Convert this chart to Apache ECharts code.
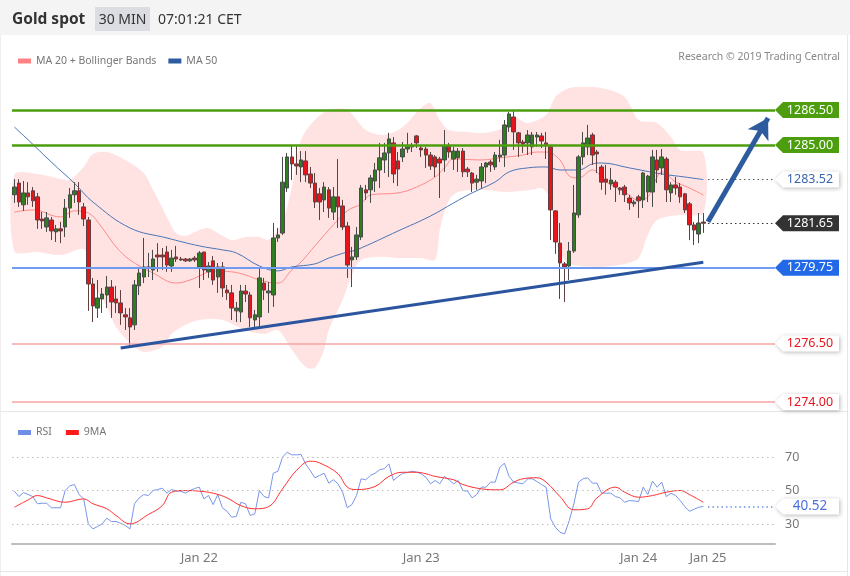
<!DOCTYPE html>
<html><head><meta charset="utf-8">
<script src="https://cdn.jsdelivr.net/npm/echarts/dist/echarts.min.js"></script>
<style>html,body{margin:0;padding:0;background:#fff}#chart{width:850px;height:576px}</style>
</head><body><div id="chart"></div>
<script>
// ---------- DATA ----------
const slotCount = 165; // 150 candles + empty slots on the right
const dateLabels = ['Jan 22', 'Jan 23', 'Jan 24', 'Jan 25'];
const dateLabelSlots = [40, 88, 135, 150];

const opens = [1282.87,1283.37,1282.44,1282.95,1283.04,1282.78,1281.83,1281.49,1281.79,1281.28,
1281.41,1281.49,1282.30,1282.87,1283.04,1282.35,1281.79,1279.05,1278.02,1278.41,
1278.58,1278.92,1278.41,1278.24,1277.73,1277.60,1277.30,1278.97,1279.35,1279.74,
1279.65,1280.29,1280.29,1280.42,1279.82,1280.21,1280.12,1280.12,1280.04,1280.16,
1279.78,1280.42,1279.57,1280.04,1279.35,1279.78,1278.79,1278.67,1277.90,1277.85,
1278.75,1278.58,1277.51,1277.64,1279.09,1278.67,1278.58,1281.02,1281.23,1283.16,
1284.49,1284.19,1284.06,1284.32,1283.76,1283.37,1282.91,1282.65,1283.08,1282.13,
1282.78,1282.39,1281.53,1280.08,1280.21,1281.06,1283.08,1283.08,1283.46,1283.93,
1284.36,1284.66,1285.09,1284.32,1284.49,1284.83,1284.92,1285.39,1284.87,1284.83,
1284.57,1284.49,1284.40,1284.36,1284.96,1284.40,1284.45,1284.74,1283.97,1283.80,
1283.41,1283.46,1284.06,1284.27,1284.06,1284.49,1284.57,1285.77,1286.20,1285.52,
1285.13,1285.09,1284.92,1285.34,1285.39,1285.09,1284.92,1282.18,1280.80,1279.91,
1279.82,1280.46,1282.01,1284.49,1284.92,1285.43,1284.70,1284.06,1283.54,1283.33,
1283.41,1283.16,1283.20,1282.73,1282.48,1282.78,1282.65,1282.99,1282.99,1284.36,
1284.02,1284.40,1282.95,1283.29,1283.20,1282.91,1282.48,1281.58,1281.19,1281.70];

const closes = [1283.20,1282.56,1282.95,1282.78,1282.61,1281.79,1281.75,1281.88,1281.32,1281.41,
1281.32,1282.30,1282.87,1283.04,1282.56,1281.83,1279.05,1278.11,1278.45,1278.62,
1278.92,1278.28,1278.24,1277.81,1277.64,1277.21,1279.01,1279.52,1279.78,1279.78,
1280.12,1280.21,1280.21,1279.86,1280.16,1280.12,1280.08,1280.04,1280.12,1280.08,
1280.38,1279.65,1279.82,1279.22,1279.78,1278.88,1278.67,1278.02,1278.02,1278.75,
1278.62,1277.60,1277.73,1279.31,1278.79,1278.75,1281.02,1281.15,1283.41,1284.49,
1284.19,1284.10,1284.36,1283.72,1283.37,1282.56,1282.56,1283.20,1282.30,1282.78,
1282.35,1281.49,1279.86,1280.21,1281.15,1283.16,1282.95,1283.59,1283.93,1284.45,
1284.66,1285.26,1283.76,1283.97,1284.83,1284.92,1284.96,1285.09,1284.79,1284.57,
1284.10,1284.06,1284.23,1284.96,1284.70,1284.74,1284.74,1283.85,1283.85,1283.37,
1283.54,1284.06,1284.23,1284.15,1284.57,1284.57,1285.86,1286.33,1285.56,1285.09,
1285.04,1285.43,1285.43,1285.43,1285.17,1285.00,1282.22,1280.85,1279.95,1279.78,
1280.46,1282.09,1284.49,1285.09,1285.30,1284.57,1284.62,1283.41,1283.41,1283.50,
1283.20,1283.08,1282.87,1282.52,1282.56,1282.61,1283.80,1283.67,1284.49,1283.93,
1284.49,1283.08,1283.29,1283.16,1282.78,1282.22,1281.58,1281.36,1281.66,1281.65];

const lows = [1282.52,1282.35,1282.18,1282.44,1282.35,1281.41,1281.41,1281.28,1280.93,1280.85,
1280.80,1281.06,1281.88,1282.52,1282.01,1281.53,1277.90,1277.42,1277.60,1277.81,
1278.02,1277.60,1277.81,1277.30,1277.08,1276.40,1277.08,1278.58,1279.09,1279.35,
1279.22,1279.57,1279.65,1279.57,1279.57,1279.99,1280.04,1279.99,1279.99,1279.99,
1278.88,1279.22,1279.31,1279.01,1278.67,1278.49,1278.37,1277.51,1277.42,1277.42,
1278.28,1277.21,1277.17,1277.21,1278.37,1277.81,1278.07,1280.85,1281.15,1282.99,
1283.50,1283.72,1283.41,1283.41,1283.16,1282.30,1281.79,1282.13,1281.88,1281.79,
1281.45,1281.36,1279.31,1278.92,1280.08,1280.93,1282.65,1282.52,1282.99,1283.16,
1283.80,1283.63,1283.37,1283.24,1284.27,1284.66,1284.70,1284.87,1284.49,1284.02,
1283.93,1283.63,1282.73,1283.85,1284.45,1283.93,1283.85,1283.63,1283.63,1282.99,
1283.08,1283.16,1283.37,1283.85,1283.93,1284.27,1284.06,1285.56,1284.79,1284.49,
1284.66,1284.57,1284.57,1284.92,1284.87,1284.40,1280.93,1280.34,1278.41,1278.28,
1279.22,1280.38,1281.88,1284.15,1284.57,1284.15,1283.80,1283.08,1282.87,1283.08,
1282.56,1282.87,1282.56,1282.22,1282.35,1281.88,1282.30,1282.56,1282.35,1283.37,
1283.72,1282.56,1282.56,1282.87,1282.52,1282.09,1280.93,1280.72,1280.80,1281.24];

const highs = [1283.54,1283.54,1283.46,1283.41,1283.20,1282.95,1282.13,1282.13,1281.92,1281.58,
1281.71,1282.69,1283.16,1283.41,1283.41,1282.52,1281.92,1279.31,1279.22,1278.88,
1279.39,1279.22,1278.97,1278.79,1278.02,1278.02,1279.22,1279.78,1281.02,1280.38,
1280.51,1280.80,1280.59,1280.68,1280.51,1280.68,1280.21,1280.16,1280.16,1280.25,
1280.46,1280.42,1279.99,1280.25,1279.95,1279.99,1279.01,1279.01,1278.28,1279.01,
1279.01,1278.71,1277.94,1279.74,1279.31,1279.13,1281.66,1281.45,1284.49,1284.66,
1285.00,1285.00,1284.74,1284.74,1284.06,1283.80,1283.16,1283.41,1283.20,1283.20,
1284.40,1282.65,1281.71,1280.64,1281.49,1283.29,1283.29,1283.72,1284.23,1285.09,
1285.09,1285.52,1285.34,1284.70,1285.13,1285.52,1285.09,1285.43,1285.00,1284.92,
1284.70,1284.57,1284.49,1285.64,1285.09,1284.92,1284.87,1284.87,1284.06,1283.85,
1283.72,1284.23,1284.27,1284.36,1284.70,1285.22,1286.07,1286.41,1286.50,1285.56,
1285.22,1285.64,1285.56,1285.56,1285.52,1285.56,1285.00,1282.22,1281.66,1279.99,
1280.85,1283.29,1284.57,1285.56,1285.86,1285.52,1284.79,1284.15,1284.15,1284.02,
1283.50,1283.20,1283.29,1282.87,1282.65,1282.87,1283.85,1283.72,1284.79,1284.79,
1284.83,1284.49,1283.41,1283.63,1283.37,1282.95,1282.56,1281.71,1282.09,1282.09];

// MA 20 (at these candle slots)
const ma20Slots = [0,4,10,13,16,19,22,25,30,35,38,40,43,47,50,53,57,60,62,65,68,72,75,77,83,87,91,93,95,101,105,110,113,115,118,120,122,125,128,132,135,137,139,140,143,146,149];
const ma20Vals = [1282.13,1282.22,1281.92,1282.18,1282.09,1281.45,1280.64,1280.08,1279.52,1279.09,1279.22,1279.39,1279.61,1279.57,1279.44,1279.22,1279.09,1279.65,1279.99,1280.68,1281.36,1282.18,1282.48,1282.86,1282.95,1283.20,1283.63,1284.02,1284.40,1284.36,1284.45,1284.57,1284.70,1284.70,1284.36,1283.67,1283.59,1283.93,1283.42,1282.99,1282.65,1282.78,1283.63,1283.85,1283.42,1283.16,1282.86];

// Bollinger upper / lower
const upperSlots = [0,5,10,12,15,17,20,24,28,30,33,35,37,40,42,44,47,50,53,55,58,60,62,65,68,72,76,80,84,88,90,92,94,98,102,106,108,111,115,117,120,123,127,132,135,139,142,144,149];
const upperVals = [1283.72,1283.76,1283.54,1283.50,1284.06,1284.62,1284.70,1284.36,1283.80,1283.08,1281.92,1281.23,1281.11,1281.36,1281.45,1281.23,1280.93,1281.06,1281.06,1280.93,1281.71,1283.20,1285.22,1286.07,1286.50,1286.50,1285.64,1285.43,1285.77,1286.59,1286.80,1286.07,1285.64,1285.56,1285.52,1285.77,1286.20,1285.94,1286.29,1287.06,1287.44,1287.48,1287.44,1287.06,1286.07,1285.94,1285.34,1284.79,1284.66];
const lowerSlots = [0,5,10,15,16,17,20,22,25,28,32,34,37,40,45,50,54,57,60,63,65,67,68,71,73,75,79,83,88,91,92,94,96,101,106,112,114,116,117,119,121,126,132,135,137,139,144,149];
const lowerVals = [1280.46,1280.42,1280.29,1280.55,1279.86,1279.09,1278.07,1277.21,1276.53,1276.14,1276.36,1276.91,1277.30,1277.51,1277.51,1277.08,1276.91,1277.08,1276.23,1275.50,1275.46,1276.23,1277.08,1278.37,1279.44,1280.08,1280.21,1280.16,1280.16,1280.08,1281.36,1282.65,1282.99,1283.08,1282.99,1283.08,1283.16,1282.65,1280.93,1280.08,1279.86,1279.78,1279.91,1280.16,1281.15,1281.79,1282.01,1282.09];

// MA 50
const ma50Slots = [0,3,8,13,17,25,33,40,45,48,53,57,60,65,68,72,74,83,90,95,99,104,107,111,115,118,122,125,127,133,140,145,149];
const ma50Vals = [1285.77,1285.22,1284.27,1283.36,1282.56,1281.45,1281.02,1280.68,1280.51,1280.38,1279.82,1279.61,1279.78,1279.91,1280.16,1280.42,1280.51,1281.32,1281.96,1282.52,1282.95,1283.42,1283.85,1284.02,1284.06,1283.93,1283.93,1284.19,1284.23,1284.02,1283.76,1283.63,1283.52];

// Levels
const resistanceLevels = [1286.50, 1285.00];
const pivotLevel = 1279.75;
const supportLevels = [1276.50, 1274.00];
const ma50Last = 1283.52;
const lastPrice = 1281.65;
const trendSlots = [23, 149];
const trendVals = [1276.31, 1279.98];
const arrowSlots = [150, 163];
const arrowVals = [1281.71, 1286.16];

// RSI
const rsiVals = [49.6,46.4,48.8,47.6,46.4,42.1,42.4,42.4,39.7,39.7,
39.7,50.0,52.8,53.6,47.6,45.0,30.1,27.1,28.5,30.1,
33.5,31.5,31.5,30.5,29.1,27.1,42.1,45.6,47.6,47.0,
50.0,50.6,51.4,48.4,50.6,49.7,49.6,48.4,50.0,51.2,
52.0,45.0,47.0,41.6,47.6,39.7,37.6,34.1,34.5,43.0,
42.1,35.1,36.1,50.0,46.4,45.6,60.3,61.5,69.9,72.9,
71.3,71.3,71.5,65.9,61.9,57.6,59.0,60.3,54.4,56.4,
54.0,49.0,39.7,41.6,47.0,57.0,56.4,59.0,60.3,62.4,
63.0,65.9,56.0,58.4,60.3,60.7,61.5,61.0,60.0,57.9,
54.0,56.0,54.0,58.4,56.4,54.0,56.0,50.0,49.6,45.6,
47.6,52.0,52.0,55.0,55.0,63.9,66.3,58.4,55.0,54.5,
54.0,57.0,57.0,55.4,53.6,52.0,33.1,28.1,25.1,24.1,
32.0,42.0,55.0,57.0,57.6,54.4,54.4,48.4,48.4,48.4,
46.4,45.6,43.0,44.0,43.8,43.4,52.0,47.6,55.6,52.0,
55.0,46.4,48.4,47.0,44.0,40.4,37.6,38.8,40.0,40.52];
const rsiMaSlots = [0,3,5,7,11,15,17,20,22,25,29,32,34,37,40,43,46,49,52,55,58,61,64,66,70,72,74,78,81,84,87,89,91,95,97,101,105,108,110,113,115,118,121,124,126,130,132,135,138,141,144,146,149];
const rsiMaVals = [40.0,44.4,47.0,45.6,43.0,45.0,42.1,39.1,35.1,30.1,35.7,41.0,49.0,50.0,49.6,48.4,45.6,41.0,39.1,40.4,51.0,61.9,67.5,66.5,60.0,52.0,50.6,52.4,58.4,60.9,60.9,60.0,58.4,56.4,53.6,51.0,50.4,55.0,57.0,57.6,55.0,46.4,38.5,39.1,45.6,52.0,49.0,46.0,47.0,49.0,50.0,47.6,43.0];
const rsiGridLevels = [70, 50, 30];
const rsiLast = 40.52;

// ---------- CHART ----------
const FONT = '"Noto Sans", "Open Sans", sans-serif';
const cats = Array.from({length: slotCount}, (_, i) => 's' + i);
const pairs = (s, v) => s.map((x, k) => [x, v[k]]);
const candles = opens.map((o, i) => [o, closes[i], lows[i], highs[i]]);
const lastSlot = slotCount - 1;
const tagPath = 'path://M0,8L8,0L64,0L64,16L8,16Z';
const shadow = {shadowBlur: 4, shadowColor: 'rgba(0,0,0,0.28)', shadowOffsetX: 1, shadowOffsetY: 1};

function tag(v, fill, text, withShadow, size) {
  return {
    coord: [lastSlot, v], value: v.toFixed(2),
    symbol: tagPath, symbolSize: [64, 16], symbolOffset: [34.3, 0], symbolKeepAspect: false,
    itemStyle: Object.assign({color: fill}, withShadow ? shadow : {}),
    label: {show: true, position: 'inside', offset: [3, 0], color: text, fontSize: size || 12.5, fontFamily: FONT, formatter: (p) => p.value}
  };
}

const chart = echarts.init(document.getElementById('chart'), null, {renderer: 'canvas'});
const option = {
  animation: false,
  backgroundColor: '#fff',
  textStyle: {fontFamily: FONT},
  grid: [
    {left: 12, width: 763, top: 79.6, height: 331.7},
    {left: 12, width: 763, top: 440.25, height: 103.05}
  ],
  xAxis: [
    {type: 'category', gridIndex: 0, data: cats, boundaryGap: true, show: false},
    {type: 'category', gridIndex: 1, data: cats, boundaryGap: true,
     axisLine: {show: true, lineStyle: {color: '#bdbdbd', width: 2}},
     axisTick: {show: false}, splitLine: {show: false},
     axisLabel: {
       interval: (i) => dateLabelSlots.indexOf(i) >= 0,
       formatter: (v, i) => { const k = dateLabelSlots.indexOf(i); return k >= 0 ? dateLabels[k] : ''; },
       color: '#777', fontSize: 13, margin: 8, fontFamily: FONT
     }}
  ],
  yAxis: [
    {type: 'value', gridIndex: 0, min: 1273.6, max: 1287.8, show: false},
    {type: 'value', gridIndex: 1, min: 18.5, max: 80, show: false}
  ],
  legend: [
    {data: ['MA 20 + Bollinger Bands', 'MA 50'], left: 13, top: 50.5, icon: 'rect', itemWidth: 13, itemHeight: 5, itemGap: 12,
     selectedMode: false, textStyle: {color: '#777', fontSize: 10.5, fontFamily: FONT}},
    {data: ['RSI', '9MA'], left: 13, top: 422, icon: 'rect', itemWidth: 13, itemHeight: 5, itemGap: 14,
     selectedMode: false, textStyle: {color: '#777', fontSize: 10.5, fontFamily: FONT}}
  ],
  graphic: [
    {type: 'rect', shape: {x: 0, y: 0, width: 850, height: 35}, style: {fill: '#f4f4f4'}, z: -10},
    {type: 'rect', shape: {x: 95, y: 7, width: 55, height: 24}, style: {fill: '#dcdde2'}, z: -9},
    {type: 'text', x: 12, y: 20, style: {text: 'Gold spot', fill: '#333', font: 'bold 15.5px ' + FONT, textVerticalAlign: 'middle'}},
    {type: 'text', x: 122.5, y: 20, style: {text: '30 MIN', fill: '#333', font: '14px ' + FONT, textAlign: 'center', textVerticalAlign: 'middle'}},
    {type: 'text', x: 158, y: 20, style: {text: '07:01:21 CET', fill: '#333', font: '14px ' + FONT, textVerticalAlign: 'middle'}},
    {type: 'text', x: 840, y: 57.5, style: {text: 'Research \u00a9 2019 Trading Central', fill: '#888', font: '10.5px ' + FONT, textAlign: 'right', textVerticalAlign: 'middle'}},
    {type: 'line', shape: {x1: 0, y1: 411.5, x2: 848, y2: 411.5}, style: {stroke: '#e6e6e6', lineWidth: 1}},
    {type: 'line', shape: {x1: 847.5, y1: 35, x2: 847.5, y2: 576}, style: {stroke: '#e6e6e6', lineWidth: 1}},
    {type: 'line', shape: {x1: 0.5, y1: 35, x2: 0.5, y2: 576}, style: {stroke: '#eeeeee', lineWidth: 1}},
    {type: 'line', shape: {x1: 0, y1: 571.5, x2: 848, y2: 571.5}, style: {stroke: '#e6e6e6', lineWidth: 1}}
  ],
  series: [
    {
      type: 'custom', name: 'band', xAxisIndex: 0, yAxisIndex: 0, z: 1, silent: true,
      data: [[0, upperVals[0]]],
      renderItem: (params, api) => {
        const pts = [];
        for (let k = 0; k < upperSlots.length; k++) pts.push(api.coord([upperSlots[k], upperVals[k]]));
        for (let k = lowerSlots.length - 1; k >= 0; k--) pts.push(api.coord([lowerSlots[k], lowerVals[k]]));
        return {type: 'polygon', shape: {points: pts, smooth: 0.3}, style: {fill: '#ffe3e3'}};
      }
    },
    {
      type: 'line', name: 'MA 20 + Bollinger Bands', xAxisIndex: 0, yAxisIndex: 0, z: 2,
      data: pairs(ma20Slots, ma20Vals), smooth: 0.4, showSymbol: false, symbol: 'none',
      color: '#ff8282', lineStyle: {color: '#ff8a8a', width: 1}
    },
    {
      type: 'line', name: 'MA 50', xAxisIndex: 0, yAxisIndex: 0, z: 2,
      data: pairs(ma50Slots, ma50Vals), smooth: 0.4, showSymbol: false, symbol: 'none',
      color: '#2e5ca3', lineStyle: {color: '#4a74b6', width: 1},
      markLine: {
        silent: true, symbol: ['none', 'arrow'], symbolSize: [18, 20], label: {show: false}, z: 6,
        data: [[{coord: [arrowSlots[0], arrowVals[0]], lineStyle: {color: '#2d5c9e', width: 5, type: 'solid'}, itemStyle: {color: '#2d5c9e'}},
                {coord: [arrowSlots[1], arrowVals[1]]}]]
      }
    },
    {
      type: 'candlestick', name: 'Gold', xAxisIndex: 0, yAxisIndex: 0, z: 3,
      data: candles, barWidth: 4,
      itemStyle: {color: '#2e7d1f', color0: '#e8141b', borderColor: '#4a4a4a', borderColor0: '#5e4040', borderWidth: 1},
      markLine: {
        silent: true, symbol: ['none', 'none'], label: {show: false},
        data: [
          {yAxis: resistanceLevels[0], lineStyle: {color: '#4c9e0e', width: 2.5, type: 'solid'}},
          {yAxis: resistanceLevels[1], lineStyle: {color: '#4c9e0e', width: 2.5, type: 'solid'}},
          {yAxis: pivotLevel, lineStyle: {color: '#6f9cf0', width: 2, type: 'solid'}},
          {yAxis: supportLevels[0], lineStyle: {color: '#f6a5a5', width: 1.5, type: 'solid'}},
          {yAxis: supportLevels[1], lineStyle: {color: '#f6a5a5', width: 1.5, type: 'solid'}},
          [{coord: [trendSlots[0], trendVals[0]], lineStyle: {color: '#2c55a0', width: 3, type: 'solid'}}, {coord: [trendSlots[1], trendVals[1]]}],
          [{coord: [150, ma50Last], lineStyle: {color: '#555', width: 1.2, type: [1.5, 3]}}, {coord: [lastSlot, ma50Last]}],
          [{coord: [150, lastPrice], lineStyle: {color: '#333', width: 1.2, type: [1.5, 3]}}, {coord: [lastSlot, lastPrice]}]
        ]
      },
      markPoint: {
        silent: true,
        data: [
          tag(resistanceLevels[0], '#4c9e0e', '#fff', false),
          tag(resistanceLevels[1], '#4c9e0e', '#fff', false),
          tag(ma50Last, '#fff', '#3a66b0', true),
          tag(lastPrice, '#333', '#fff', false),
          tag(pivotLevel, '#2269e8', '#fff', false),
          tag(supportLevels[0], '#fff', '#e8141b', true),
          tag(supportLevels[1], '#fff', '#e8141b', true)
        ]
      }
    },
    {
      type: 'line', name: 'RSI', xAxisIndex: 1, yAxisIndex: 1, z: 3,
      data: rsiVals, showSymbol: false, symbol: 'none',
      color: '#6f8fe6', lineStyle: {color: '#7896ea', width: 1},
      markLine: {
        silent: true, symbol: ['none', 'none'],
        lineStyle: {color: '#bdbdbd', width: 1, type: [1.5, 3.5]},
        label: {show: true, position: 'end', distance: 10, color: '#777', fontSize: 12.5, fontFamily: FONT, formatter: (p) => p.value},
        data: rsiGridLevels.map((v) => ({yAxis: v})).concat([
          [{coord: [150, rsiLast], lineStyle: {color: '#6f8fe6', width: 1.5, type: [1.5, 3]}, label: {show: false}}, {coord: [lastSlot, rsiLast]}]
        ])
      },
      markPoint: {
        silent: true,
        data: [tag(rsiLast, '#fff', '#4a70e0', true, 13.5)]
      }
    },
    {
      type: 'line', name: '9MA', xAxisIndex: 1, yAxisIndex: 1, z: 3,
      data: pairs(rsiMaSlots, rsiMaVals), smooth: 0.4, showSymbol: false, symbol: 'none',
      color: '#ff1a1a', lineStyle: {color: '#ff3030', width: 1}
    }
  ]
};
chart.setOption(option);
</script></body></html>
